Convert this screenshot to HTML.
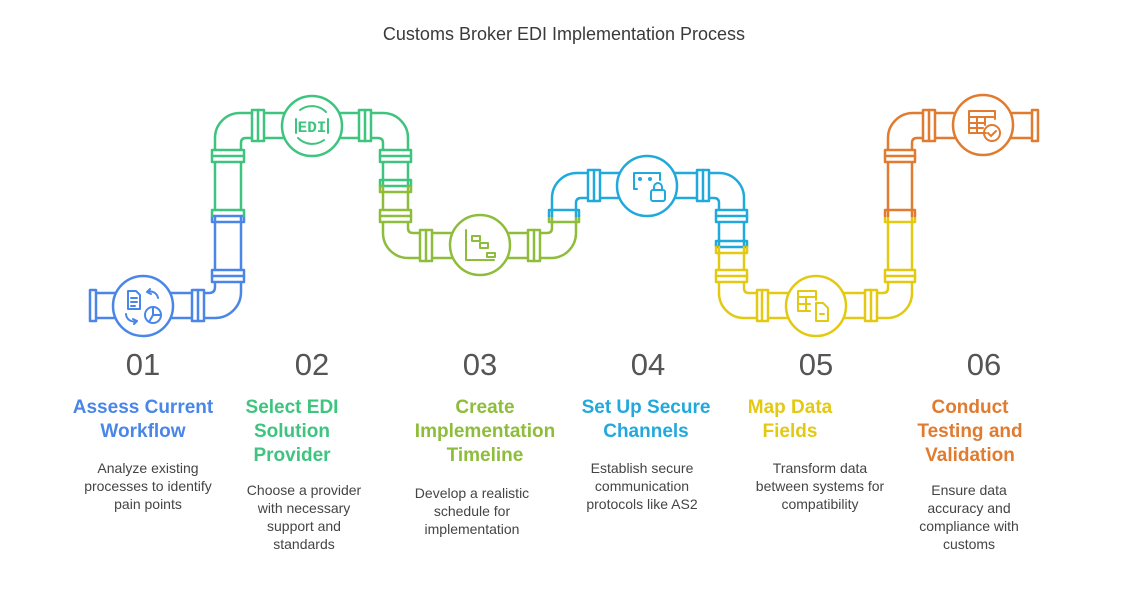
<!DOCTYPE html>
<html><head><meta charset="utf-8"><style>
body{margin:0;width:1128px;height:600px;background:#fff;position:relative;font-family:"Liberation Sans",sans-serif;overflow:hidden}
.t{position:absolute;top:24px;left:0;width:1128px;text-align:center;font-size:18px;color:#3a3a3a}
.n{position:absolute;top:347px;width:120px;text-align:center;font-size:31px;color:#555;font-weight:normal}
.h{position:absolute;top:396px;width:180px;text-align:center;font-size:19px;font-weight:bold;line-height:24px}
.d{position:absolute;width:170px;text-align:center;font-size:14px;line-height:18px;color:#444}
</style></head><body>
<div class="t">Customs Broker EDI Implementation Process</div>
<svg width="1128" height="600" style="position:absolute;left:0;top:0" fill="none" stroke-width="2.5" stroke-linecap="round" stroke-linejoin="round">
<g stroke="#4a86e8">
<path d="M96 318 H215 A26 26 0 0 0 241 292 V216"/>
<path d="M96 293 H209 Q215 293 215 287 V216"/>
<rect x="90" y="290" width="6" height="31" fill="#fff"/>
<rect x="192" y="290" width="12" height="31" fill="#fff"/><path d="M198 290V321"/>
<rect x="212" y="270" width="32" height="12" fill="#fff"/><path d="M212 276H244"/>
<path d="M212 216V222H244V216M212 216H244"/>
<circle cx="143" cy="306" r="30" fill="#fff"/>
<path d="M128 291h8l4 4v14h-12z M131 298h6M131 302h6M131 306h4" stroke-width="2"/>
<path d="M158 298a8 8 0 0 0-11-6m0 0l3-3m-3 3l4 2" stroke-width="2"/>
<path d="M126 314a8 8 0 0 0 11 7m0 0l-3 3m3-3l-4-2" stroke-width="2"/>
<circle cx="153" cy="315" r="8" stroke-width="2"/><path d="M153 307v8h8M153 315l-4 7" stroke-width="2"/>
</g>
<g stroke="#3ec47f">
<path d="M215 210V138 A25 25 0 0 1 240 113 H383 A25 25 0 0 1 408 138 V186"/>
<path d="M241 210V143 Q241 138 246 138 H378 Q383 138 383 143 V186"/>
<path d="M212 216V210H244V216"/>
<rect x="212" y="150" width="32" height="12" fill="#fff"/><path d="M212 156H244"/>
<rect x="252" y="110" width="12" height="31" fill="#fff"/><path d="M258 110V141"/>
<rect x="359" y="110" width="12" height="31" fill="#fff"/><path d="M365 110V141"/>
<rect x="380" y="150" width="31" height="12" fill="#fff"/><path d="M380 156H411"/>
<path d="M380 186V180H411V186H380"/>
<circle cx="312" cy="126" r="30" fill="#fff"/>
<path d="M300 110a20 20 0 0 1 26 2M324 140a20 20 0 0 1-26-2M296 119v14M328 119v14" stroke-width="2"/>
</g>
<text x="312" y="132" font-family="Liberation Mono,monospace" font-size="16" font-weight="bold" fill="#3ec47f" text-anchor="middle">EDI</text>
<g stroke="#8dbd3b">
<path d="M383 186V233 A25 25 0 0 0 408 258 H552 A25 25 0 0 0 576 234 V216"/>
<path d="M408 186V228 Q408 233 413 233 H547 Q552 233 552 228 V216"/>
<path d="M380 186V192H411V186"/>
<rect x="380" y="210" width="31" height="12" fill="#fff"/><path d="M380 216H411"/>
<rect x="420" y="230" width="12" height="31" fill="#fff"/><path d="M426 230V261"/>
<rect x="528" y="230" width="12" height="31" fill="#fff"/><path d="M534 230V261"/>
<path d="M549 216V222H579V216"/>
<circle cx="480" cy="245" r="30" fill="#fff"/>
<path d="M466 230V260H494M472 236h8v5h-8zM480 243h8v5h-8zM487 253h8v4h-8z" stroke-width="2"/>
</g>
<g stroke="#22a9dc">
<path d="M552 216V198 A25 25 0 0 1 577 173 H719 A25 25 0 0 1 744 198 V247"/>
<path d="M576 216V203 Q576 198 581 198 H714 Q719 198 719 203 V247"/>
<path d="M549 216V210H579V216"/>
<rect x="588" y="170" width="12" height="31" fill="#fff"/><path d="M594 170V201"/>
<rect x="697" y="170" width="12" height="31" fill="#fff"/><path d="M703 170V201"/>
<rect x="716" y="210" width="31" height="12" fill="#fff"/><path d="M716 216H747"/>
<path d="M716 247V241H747V247H716"/>
<circle cx="647" cy="186" r="30" fill="#fff"/>
<path d="M637 189h-3v-16h26v7" stroke-width="2"/>
<circle cx="640" cy="179" r="1" stroke-width="2"/><circle cx="650" cy="179" r="1" stroke-width="2"/>
<rect x="651" y="190" width="14" height="11" rx="2" stroke-width="2"/><path d="M654 190v-3a4 4 0 0 1 8 0v3" stroke-width="2"/>
</g>
<g stroke="#e3c912">
<path d="M719 247V293 A25 25 0 0 0 744 318 H888 A25 25 0 0 0 912 294 V216"/>
<path d="M744 247V288 Q744 293 749 293 H883 Q888 293 888 288 V216"/>
<path d="M716 247V253H747V247"/>
<rect x="716" y="270" width="31" height="12" fill="#fff"/><path d="M716 276H747"/>
<rect x="757" y="290" width="11" height="31" fill="#fff"/><path d="M762 290V321"/>
<rect x="865" y="290" width="12" height="31" fill="#fff"/><path d="M871 290V321"/>
<rect x="885" y="270" width="30" height="12" fill="#fff"/><path d="M885 276H915"/>
<path d="M885 216V222H915V216"/>
<circle cx="816" cy="306" r="30" fill="#fff"/>
<path d="M816 300v-9h-18v20h12M798 297h18M798 304h12M806 297v14" stroke-width="2"/>
<path d="M816 303h7l5 5v13h-12z M820 314h4" stroke-width="2"/>
</g>
<g stroke="#e07b2f">
<path d="M888 216V138 A25 25 0 0 1 913 113 H1032"/>
<path d="M912 216V143 Q912 138 917 138 H1032"/>
<path d="M885 216V210H915V216"/>
<rect x="885" y="150" width="30" height="12" fill="#fff"/><path d="M885 156H915"/>
<rect x="923" y="110" width="12" height="31" fill="#fff"/><path d="M929 110V141"/>
<rect x="1032" y="110" width="6" height="31" fill="#fff"/>
<circle cx="983" cy="125" r="30" fill="#fff"/>
<path d="M986 133h-17v-22h26v8M969 117h26M969 123h16M969 128h14M977 117v16M985 117v8" stroke-width="2"/>
<circle cx="992" cy="133" r="8" stroke-width="2"/><path d="M988 133l3 3 5-5" stroke-width="2"/>
</g>
</svg>
<div class="n" style="left:83px">01</div>
<div class="n" style="left:252px">02</div>
<div class="n" style="left:420px">03</div>
<div class="n" style="left:588px">04</div>
<div class="n" style="left:756px">05</div>
<div class="n" style="left:924px">06</div>

<div class="h" style="left:53px;color:#4a86e8">Assess Current<br>Workflow</div>
<div class="h" style="left:202px;color:#3ec47f">Select EDI<br>Solution<br>Provider</div>
<div class="h" style="left:395px;color:#8dbd3b">Create<br>Implementation<br>Timeline</div>
<div class="h" style="left:556px;color:#22a9dc">Set Up Secure<br>Channels</div>
<div class="h" style="left:700px;color:#e3c912">Map Data<br>Fields</div>
<div class="h" style="left:880px;color:#e07b2f">Conduct<br>Testing and<br>Validation</div>

<div class="d" style="left:63px;top:459px">Analyze existing<br>processes to identify<br>pain points</div>
<div class="d" style="left:219px;top:481px">Choose a provider<br>with necessary<br>support and<br>standards</div>
<div class="d" style="left:387px;top:484px">Develop a realistic<br>schedule for<br>implementation</div>
<div class="d" style="left:557px;top:459px">Establish secure<br>communication<br>protocols like AS2</div>
<div class="d" style="left:735px;top:459px">Transform data<br>between systems for<br>compatibility</div>
<div class="d" style="left:884px;top:481px">Ensure data<br>accuracy and<br>compliance with<br>customs</div>
</body></html>
